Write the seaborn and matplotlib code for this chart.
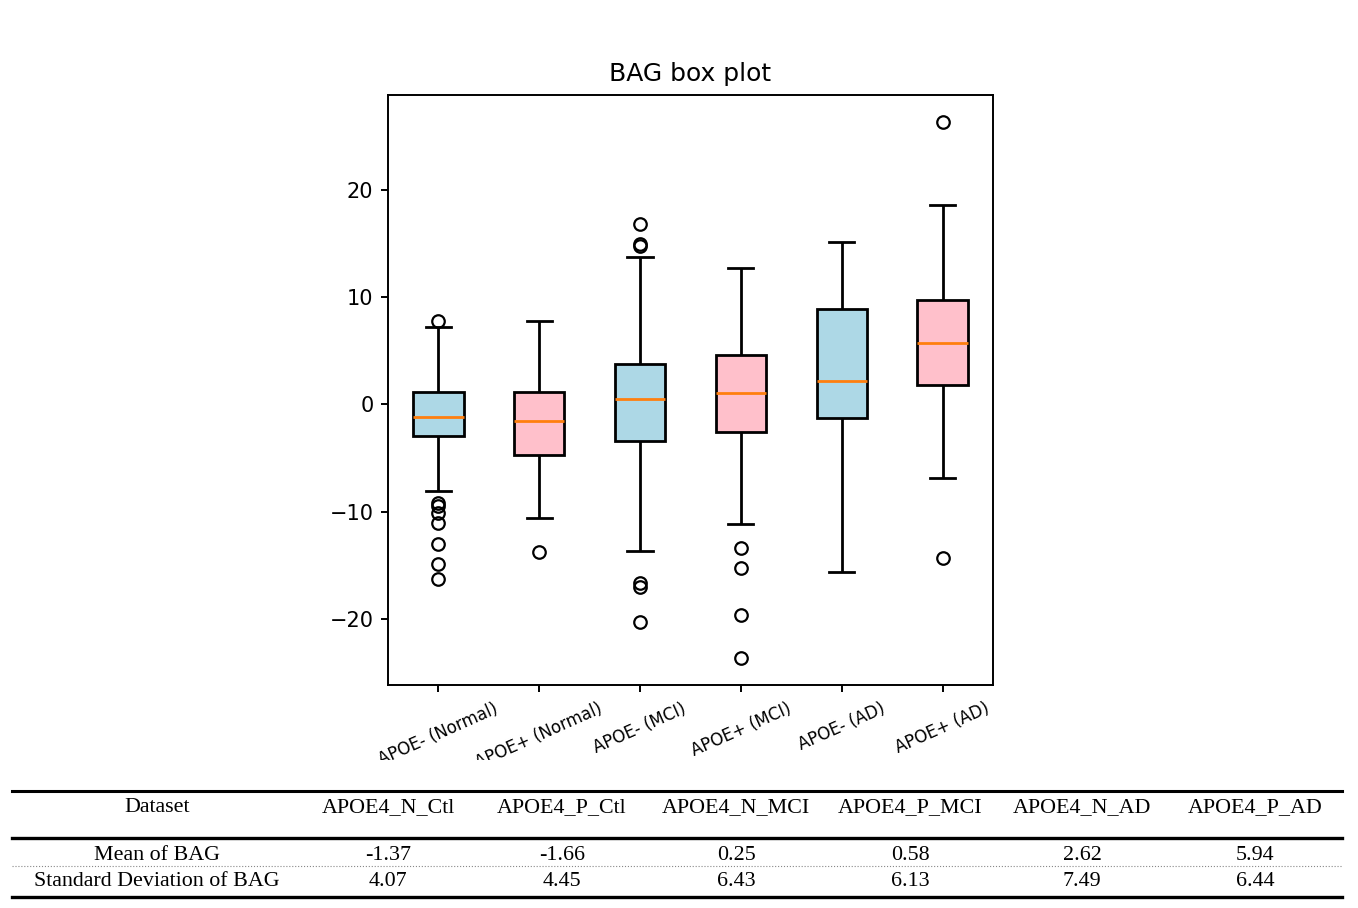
import pandas as pd
import matplotlib.pyplot as plt
import seaborn as sns

# =============================================================================
# Values
# =============================================================================

groups = ['APOE- (Normal)', 'APOE+ (Normal)', 'APOE- (MCI)',
          'APOE+ (MCI)', 'APOE- (AD)', 'APOE+ (AD)']
box_colors = ['lightblue', 'pink', 'lightblue', 'pink', 'lightblue', 'pink']

q1 = [-2.9, -4.7, -3.35, -2.55, -1.3, 1.85]
median = [-1.15, -1.55, 0.5, 1.1, 2.15, 5.7]
q3 = [1.2, 1.15, 3.75, 4.6, 8.85, 9.75]
whisker_lo = [-8.05, -10.6, -13.65, -11.1, -15.6, -6.8]
whisker_hi = [7.25, 7.75, 13.7, 12.7, 15.1, 18.6]
outliers_lo = [[-16.2, -14.8, -13.0, -11.0, -10.1, -9.45, -9.15],
               [-13.7],
               [-20.2, -16.95, -16.6],
               [-23.6, -19.55, -15.2, -13.35],
               [],
               [-14.3]]
outliers_hi = [[7.8], [], [14.75, 14.95, 16.75], [], [], [26.3]]

table_header = ['Dataset', 'APOE4_N_Ctl', 'APOE4_P_Ctl', 'APOE4_N_MCI',
                'APOE4_P_MCI', 'APOE4_N_AD', 'APOE4_P_AD']
mean_bag = ['-1.37', '-1.66', '0.25', '0.58', '2.62', '5.94']
std_bag = ['4.07', '4.45', '6.43', '6.13', '7.49', '6.44']


# build a sample per group whose quartiles / whiskers / fliers match the read stats
def build_sample(lo_q, med, hi_q, w_lo, w_hi, out_lo, out_hi):
    low = sorted(out_lo) + [w_lo]
    high = [w_hi] + sorted(out_hi)
    k = max(len(low), len(high))
    return (low + [lo_q] * (k - len(low) + 1) + [med] * k
            + [hi_q] * (2 * k - len(high)) + high)


rows = []
for i, g in enumerate(groups):
    vals = build_sample(q1[i], median[i], q3[i], whisker_lo[i], whisker_hi[i],
                        outliers_lo[i], outliers_hi[i])
    rows += [(g, v) for v in vals]
df = pd.DataFrame(rows, columns=['group', 'BAG'])

# =============================================================================
# Box plot
# =============================================================================

fig = plt.figure(figsize=(13.58, 9.08), dpi=100)
ax = fig.add_axes([0.2857, 0.2456, 0.4455, 0.6498])

sns.boxplot(data=df, x='group', y='BAG', hue='group', order=groups,
            hue_order=groups, palette=box_colors, saturation=1, width=0.5,
            linecolor='black', linewidth=2.0, legend=False, ax=ax,
            medianprops={'color': '#ff7f0e', 'linewidth': 2.0},
            flierprops={'marker': 'o', 'markerfacecolor': 'none',
                        'markeredgecolor': 'black', 'markersize': 9,
                        'markeredgewidth': 1.6})

ax.set_title('BAG box plot', fontsize=18, pad=10)
ax.set_xlabel('')
ax.set_ylabel('')
ax.set_yticks([-20, -10, 0, 10, 20])
ax.set_yticklabels(['\u221220', '\u221210', '0', '10', '20'])
ax.tick_params(axis='y', labelsize=15, length=5.25, width=1.4, pad=5.25)
ax.tick_params(axis='x', labelsize=12, length=5.25, width=1.4, pad=5.25,
               labelrotation=24)
for s in ax.spines.values():
    s.set_linewidth(1.4)

# =============================================================================
# Table underneath (covers the bottom of the tick labels like the original)
# =============================================================================

tab = fig.add_axes([0, 0, 1, 148 / 908])
tab.set_facecolor('white')
tab.set_xlim(0, 1358)
tab.set_ylim(908, 760)
tab.set_xticks([])
tab.set_yticks([])
for s in tab.spines.values():
    s.set_visible(False)

col_x = [157, 388, 562, 736, 910, 1082, 1255]
tfont = {'family': 'Liberation Serif', 'size': 15.8}

for x, h in zip(col_x, table_header):
    tab.text(x, 808, h, ha='center', va='center', **tfont)
tab.text(col_x[0], 855, 'Mean of BAG', ha='center', va='center', **tfont)
tab.text(col_x[0], 882, 'Standard Deviation of BAG', ha='center', va='center', **tfont)
for x, m, s in zip(col_x[1:], mean_bag, std_bag):
    tab.text(x, 855, m, ha='center', va='center', **tfont)
    tab.text(x, 882, s, ha='center', va='center', **tfont)

tab.plot([12, 1342], [791, 791], color='black', lw=2.2)
tab.plot([12, 1342], [838, 838], color='black', lw=2.4)
tab.plot([12, 1342], [866, 866], color='#888888', lw=0.8, ls=':')
tab.plot([12, 1342], [897, 897], color='black', lw=2.4)

plt.savefig('out.png', dpi=100)
